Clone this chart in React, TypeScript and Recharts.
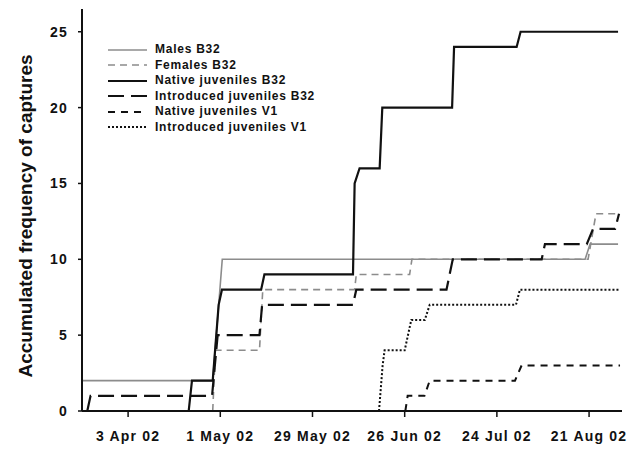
import React from 'react';
import { LineChart, Line, XAxis, YAxis, Legend } from 'recharts';

// x values are day-of-year 2002 (3 Apr = 93), y values are accumulated captures
const dayTicks = [93, 121, 149, 177, 205, 233];
const dayLabels = ['3 Apr 02', '1 May 02', '29 May 02', '26 Jun 02', '24 Jul 02', '21 Aug 02'];
const countTicks = [0, 5, 10, 15, 20, 25];

const malesB32: [number, number][] = [
    [79, 2], [118.7, 2], [121.6, 10], [231.8, 10], [233.3, 11], [241.8, 11],
];
const femalesB32: [number, number][] = [
    [118.7, 0], [119.5, 4], [132.9, 4], [133.9, 8], [161.8, 8], [162.3, 9],
    [178.5, 9], [179.2, 10], [232.7, 10], [235.1, 13], [241.8, 13],
];
const nativeJuvB32: [number, number][] = [
    [111.4, 0], [112.4, 2], [118.7, 2], [120.5, 7], [121.5, 8], [133.4, 8], [134.4, 9],
    [161.3, 9], [161.8, 15], [163.3, 16], [169.4, 16], [170.2, 20], [191.4, 20],
    [192, 24], [211, 24], [212.2, 25], [241.8, 25],
];
const introducedJuvB32: [number, number][] = [
    [80.6, 0], [81.6, 1], [118.5, 1], [120.2, 5], [132.9, 5], [133.7, 7], [161.3, 7],
    [162.3, 8], [189.7, 8], [191.6, 10], [218.6, 10], [219.6, 11], [232.3, 11],
    [234.2, 12], [240.9, 12], [242.1, 13],
];
const nativeJuvV1: [number, number][] = [
    [177.2, 0], [177.9, 1], [183, 1], [184.6, 2], [210.5, 2], [212.5, 3], [242.4, 3],
];
const introducedJuvV1: [number, number][] = [
    [169.2, 0], [170.3, 3], [170.9, 4], [177, 4], [179, 6], [183.1, 6], [184.6, 7],
    [210.8, 7], [212, 8], [242.4, 8],
];

const toPoints = (pairs: [number, number][]) => pairs.map(([day, count]) => ({ day, count }));

const GREY = '#8c8c8c';
const INK = '#111';
const FONT = '"Liberation Sans", Arial, sans-serif';

const series = [
    { name: 'Males B32', data: malesB32, stroke: GREY, width: 1.6, dash: undefined },
    { name: 'Females B32', data: femalesB32, stroke: GREY, width: 1.6, dash: '7 5' },
    { name: 'Native juveniles B32', data: nativeJuvB32, stroke: INK, width: 2.2, dash: undefined },
    { name: 'Introduced juveniles B32', data: introducedJuvB32, stroke: INK, width: 2.2, dash: '16 7' },
    { name: 'Native juveniles V1', data: nativeJuvV1, stroke: INK, width: 2, dash: '7 6' },
    { name: 'Introduced juveniles V1', data: introducedJuvV1, stroke: INK, width: 2, dash: '2 2' },
];

// draw order: greys underneath, native juveniles B32 on top
const drawOrder = [0, 1, 3, 4, 5, 2];

const LegendBox = () => (
    <div style={{ fontFamily: FONT, fontWeight: 700, fontSize: 12, letterSpacing: 0.75, color: INK }}>
        {series.map((s) => (
            <div key={s.name} style={{ display: 'flex', alignItems: 'center', height: 15.5 }}>
                <svg width={39} height={6} style={{ marginRight: 8 }}>
                    <line x1={0} y1={3} x2={39} y2={3} stroke={s.stroke} strokeWidth={s.width}
                        strokeDasharray={s.dash} />
                </svg>
                <span style={{ whiteSpace: 'nowrap', lineHeight: '15.5px' }}>{s.name}</span>
            </div>
        ))}
    </div>
);

const YTitle = () => (
    <text x={25} y={216} transform="rotate(-90 25 216)" textAnchor="middle" dominantBaseline="central"
        style={{ fontFamily: FONT, fontWeight: 700, fontSize: 19, fill: INK }}>
        Accumulated frequency of captures
    </text>
);

const tickStyle = { fontFamily: FONT, fontWeight: 700, fontSize: 14, fill: INK };

export default function App() {
    return (
        <div style={{ position: 'absolute', left: 0, top: 0, background: '#fff' }}>
            <LineChart width={633} height={449} margin={{ top: 9, right: 11, bottom: 0, left: 0 }}>
                <XAxis
                    dataKey="day"
                    type="number"
                    domain={[79, 243]}
                    ticks={dayTicks}
                    tickFormatter={(d: number) => dayLabels[dayTicks.indexOf(d)]}
                    height={38}
                    tickSize={6}
                    tickMargin={14}
                    axisLine={{ stroke: INK, strokeWidth: 2 }}
                    tickLine={{ stroke: INK, strokeWidth: 1.5 }}
                    tick={{ ...tickStyle, letterSpacing: 1.2 }}
                    interval={0}
                    allowDataOverflow
                />
                <YAxis
                    type="number"
                    domain={[0, 26.5]}
                    ticks={countTicks}
                    width={82}
                    tickSize={4}
                    tickMargin={10}
                    axisLine={{ stroke: INK, strokeWidth: 2 }}
                    tickLine={{ stroke: INK, strokeWidth: 1.5 }}
                    tick={{ ...tickStyle, letterSpacing: 1.2 }}
                    label={() => <YTitle />}
                    allowDataOverflow
                />
                <Legend
                    layout="vertical"
                    align="center"
                    verticalAlign="middle"
                    wrapperStyle={{ left: 108, top: 42, width: 260 }}
                    content={() => <LegendBox />}
                />
                {drawOrder.map((i) => {
                    const s = series[i];
                    return (
                        <Line
                            key={s.name}
                            name={s.name}
                            data={toPoints(s.data)}
                            dataKey="count"
                            type="linear"
                            stroke={s.stroke}
                            strokeWidth={s.width}
                            strokeDasharray={s.dash}
                            dot={false}
                            activeDot={false}
                            isAnimationActive={false}
                        />
                    );
                })}
            </LineChart>
        </div>
    );
}
